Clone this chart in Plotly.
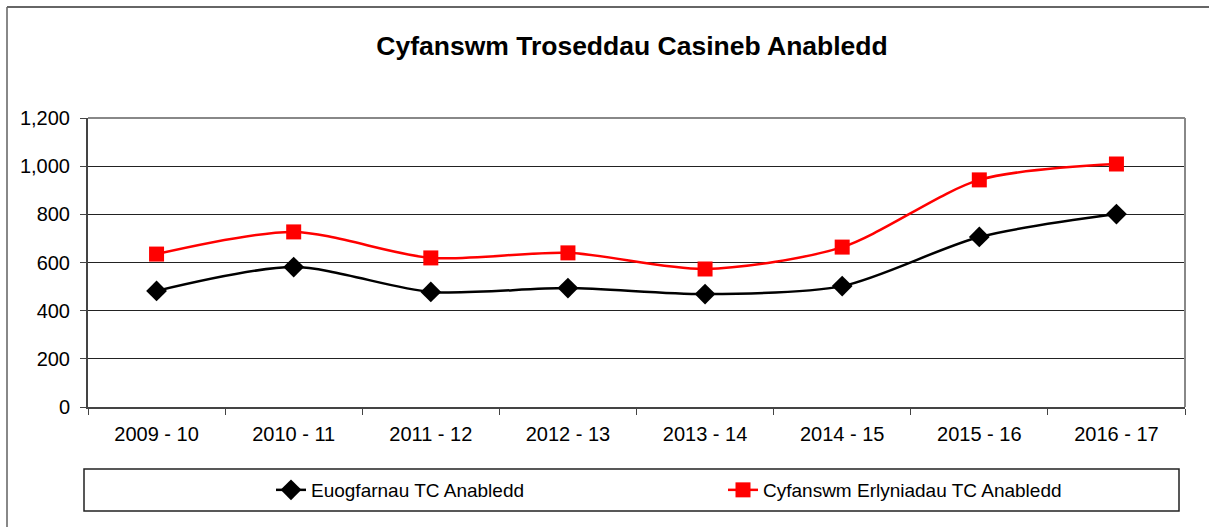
import plotly.graph_objects as go

categories = ["2009 - 10", "2010 - 11", "2011 - 12", "2012 - 13",
              "2013 - 14", "2014 - 15", "2015 - 16", "2016 - 17"]
convictions = [482, 581, 478, 494, 469, 502, 706, 801]
prosecutions = [635, 727, 619, 640, 573, 664, 943, 1009]
series_names = ["Euogfarnau TC Anabledd", "Cyfanswm Erlyniadau TC Anabledd"]
y_ticks = [0, 200, 400, 600, 800, 1000, 1200]
y_tick_text = ["0", "200", "400", "600", "800", "1,000", "1,200"]

W, H = 1209, 527
L, R, T, B = 88, 24, 118, 120
PW, PH = W - L - R, H - T - B


def px_x(x):
    return (x - L) / PW


def px_y(y):
    return (H - B - y) / PH


fig = go.Figure()
fig.add_trace(go.Scatter(
    x=categories, y=convictions, name=series_names[0], mode="lines+markers",
    line=dict(color="black", width=2.5, shape="spline", smoothing=0.8),
    marker=dict(symbol="diamond", size=16, color="black"),
))
fig.add_trace(go.Scatter(
    x=categories, y=prosecutions, name=series_names[1], mode="lines+markers",
    line=dict(color="#ff0000", width=2.5, shape="spline", smoothing=0.8),
    marker=dict(symbol="square", size=15, color="#ff0000"),
))

fig.update_layout(
    width=W, height=H, autosize=False,
    margin=dict(l=L, r=R, t=T, b=B, autoexpand=False),
    paper_bgcolor="white", plot_bgcolor="white",
    title=dict(text="<b>Cyfanswm Troseddau Casineb Anabledd</b>",
               font=dict(family="Liberation Sans, Arial", size=26.5, color="black"),
               x=632 / W, xanchor="center", xref="container",
               y=1 - 46 / H, yanchor="middle", yref="container"),
    showlegend=True,
    legend=dict(orientation="h", xref="container", yref="container",
                x=271 / W, xanchor="left",
                y=1 - 490 / H, yanchor="middle",
                font=dict(family="Liberation Sans, Arial", size=19, color="black"),
                entrywidth=407, entrywidthmode="pixels",
                bgcolor="rgba(0,0,0,0)"),
    font=dict(family="Liberation Sans, Arial", size=20, color="black"),
)

fig.update_xaxes(
    type="category", showline=True, linecolor="#444", linewidth=2, mirror=False,
    ticks="outside", tickson="boundaries", ticklen=6, tickcolor="#444",
    showgrid=False, tickfont=dict(size=20, family="Liberation Sans, Arial"),
    ticklabelstandoff=8,
    range=[-0.5, 7.5],
)
fig.update_yaxes(
    range=[0, 1200], tickvals=y_ticks, ticktext=y_tick_text,
    showline=True, linecolor="#444", linewidth=2,
    ticks="outside", ticklen=6, tickcolor="#444",
    showgrid=True, gridcolor="#222", gridwidth=1,
    ticklabelstandoff=6,
    zeroline=False, tickfont=dict(size=20, family="Liberation Sans, Arial"),
)

shapes = [
    dict(type="line", xref="paper", yref="paper", x0=0, x1=1, y0=1, y1=1,
         line=dict(color="#888", width=2)),
    dict(type="line", xref="paper", yref="paper", x0=1, x1=1, y0=0, y1=1,
         line=dict(color="#888", width=2)),
    dict(type="rect", xref="paper", yref="paper",
         x0=px_x(84), x1=px_x(1179), y0=px_y(511), y1=px_y(469),
         line=dict(color="#222", width=1.5), layer="below"),
    dict(type="line", xref="paper", yref="paper",
         x0=px_x(7), x1=px_x(7), y0=px_y(H + 5), y1=px_y(7),
         line=dict(color="#888", width=2)),
    dict(type="line", xref="paper", yref="paper",
         x0=px_x(7), x1=px_x(W + 5), y0=px_y(7), y1=px_y(7),
         line=dict(color="#666", width=2)),
]
fig.update_layout(shapes=shapes)

fig.write_html("out.html", config={"displayModeBar": False},
               post_script="document.body.style.margin='0';document.body.style.overflow='hidden';")
